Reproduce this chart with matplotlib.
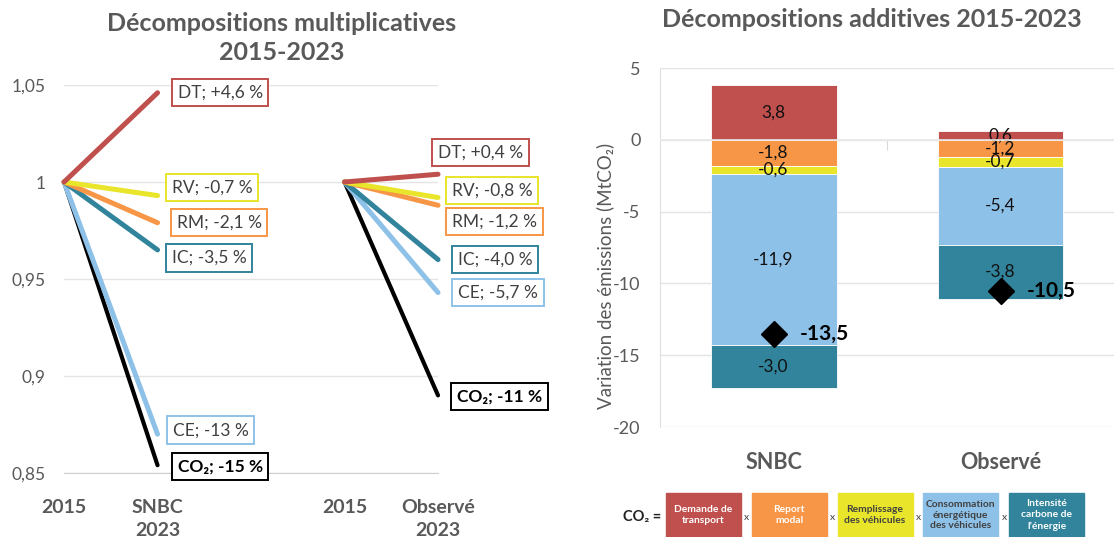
import numpy as np
import matplotlib
matplotlib.use('Agg')
import matplotlib.pyplot as plt
from matplotlib.patches import Rectangle

plt.rcParams['font.family'] = ['Lato', 'DejaVu Sans']
plt.rcParams['axes.unicode_minus'] = False

GREY = '#595959'
GRID = '#E4E4E4'

# ---- data ----------------------------------------------------------
factors = ['DT', 'RV', 'RM', 'IC', 'CE', 'CO₂']
mult_snbc = [1.046, 0.993, 0.979, 0.965, 0.870, 0.854]   # index 2023 (2015 = 1)
mult_obs = [1.004, 0.992, 0.988, 0.960, 0.943, 0.890]
mult_colors = ['#C0504D', '#E8E52A', '#F79646', '#31849B', '#8EC1E8', '#000000']
x_cats = ['2015', 'SNBC\n2023', '2015', 'Observé\n2023']

add_cats = ['SNBC', 'Observé']
add_factors = ['DT', 'RM', 'RV', 'CE', 'IC']
add_snbc = [3.8, -1.8, -0.6, -11.9, -3.0]
add_obs = [0.6, -1.2, -0.7, -5.4, -3.8]
add_colors = ['#C0504D', '#F79646', '#E8E52A', '#8EC1E8', '#31849B']

legend_names = ['Demande de\ntransport', 'Report\nmodal', 'Remplissage\ndes véhicules',
                'Consommation\nénergétique\ndes véhicules', 'Intensité\ncarbone de\nl’énergie']
legend_txt = ['white', 'white', '#404040', '#404040', 'white']

# label offsets (pixels) from line ends, to avoid overlaps
off_snbc = [(20, 0), (14, 8), (19, 0), (14, -8), (15, 4), (20, -1)]
off_obs = [(0, 22), (14, 7), (14, -16), (20, 0), (20, 0), (19, -1)]


def pct_label(name, v):
    p = (v - 1) * 100
    s = f'{p:+.0f}' if abs(p) >= 10 else f'{p:+.1f}'
    if p < 0:
        s = s.replace('+', '')
    return f'{name}; {s.replace(".", ",")} %'


fig = plt.figure(figsize=(11.14, 5.37), dpi=100)

####################################################
# left: multiplicative decomposition
ax1 = fig.add_axes([0.0575, 0.1192, 0.3357, 0.7225])
xs_snbc = [0, 1]
xs_obs = [3, 4]
order = [5, 4, 3, 2, 1, 0]
for i in order:
    lw = 3.0 if factors[i] == 'CO₂' else 3.6
    ax1.plot(xs_snbc, [1, mult_snbc[i]], color=mult_colors[i], lw=lw,
             solid_capstyle='round', clip_on=False, zorder=3)
    ax1.plot(xs_obs, [1, mult_obs[i]], color=mult_colors[i], lw=lw,
             solid_capstyle='round', clip_on=False, zorder=3)

for i, name in enumerate(factors):
    bold = name == 'CO₂'
    ec = '#000000' if bold else mult_colors[i]
    for xe, vals, offs in ((1, mult_snbc, off_snbc), (4, mult_obs, off_obs)):
        ax1.annotate(pct_label(name, vals[i]), xy=(xe, vals[i]), xytext=offs[i],
                     textcoords='offset pixels', ha='left', va='center',
                     fontsize=12.5, color='#000000' if bold else '#404040',
                     fontweight='bold' if bold else 'normal',
                     bbox=dict(boxstyle='square,pad=0.33', fc='white', ec=ec, lw=1.4),
                     annotation_clip=False, zorder=5)

ax1.set_xlim(0, 4)
ax1.set_ylim(0.85, 1.05)
ax1.set_yticks([0.85, 0.9, 0.95, 1.0, 1.05])
ax1.set_yticklabels(['0,85', '0,9', '0,95', '1', '1,05'])
ax1.set_xticks([0, 1, 3, 4])
ax1.set_xticklabels(x_cats, fontweight='bold', linespacing=1.4)
ax1.tick_params(axis='y', length=0, pad=13, labelsize=12.5, labelcolor=GREY)
ax1.tick_params(axis='x', length=0, pad=19, labelsize=14, labelcolor=GREY)
ax1.grid(axis='y', color=GRID, lw=1)
ax1.set_axisbelow(True)
for s in ['left', 'right', 'top']:
    ax1.spines[s].set_visible(False)
ax1.spines['bottom'].set_color('#D0D0D0')
fig.text(0.253, 0.978, 'Décompositions multiplicatives\n2015-2023', ha='center', va='top',
         fontsize=18, fontweight='bold', color=GREY, linespacing=1.35)

####################################################
# right: additive decomposition
ax2 = fig.add_axes([0.5925, 0.2048, 0.4075, 0.6685])
xb = np.arange(len(add_cats))
series = np.array([add_snbc, add_obs]).T
pos_base = np.zeros(len(add_cats))
neg_base = np.zeros(len(add_cats))
for k, vals in enumerate(series):
    bottoms = np.where(vals >= 0, pos_base, neg_base)
    bars = ax2.bar(xb, vals, bottom=bottoms, width=0.555, color=add_colors[k],
                   edgecolor='white', lw=0.6, zorder=2)
    ax2.bar_label(bars, labels=[f'{v:.1f}'.replace('.', ',') for v in vals],
                  label_type='center', fontsize=12.5, color='#111111')
    pos_base = pos_base + np.where(vals >= 0, vals, 0)
    neg_base = neg_base + np.where(vals < 0, vals, 0)

totals = series.sum(axis=0)
ax2.plot(xb, totals, 'D', color='black', ms=13, zorder=4)
for x, t in zip(xb, totals):
    ax2.annotate(f'{t:.1f}'.replace('.', ','), xy=(x, t), xytext=(26, 0),
                 textcoords='offset pixels', ha='left', va='center',
                 fontsize=15, fontweight='bold', color='black')

ax2.set_xlim(-0.5, 1.5)
ax2.set_ylim(-20, 5)
ax2.set_yticks([5, 0, -5, -10, -15, -20])
ax2.set_xticks(xb)
ax2.set_xticklabels(add_cats, fontweight='bold')
ax2.tick_params(axis='y', length=0, pad=14, labelsize=13, labelcolor=GREY)
ax2.tick_params(axis='x', length=0, pad=18, labelsize=15.5, labelcolor=GREY)
ax2.grid(axis='y', color=GRID, lw=1)
ax2.set_axisbelow(True)
for s in ['right', 'top', 'bottom']:
    ax2.spines[s].set_visible(False)
ax2.spines['left'].set_color('#E0E0E0')
ax2.set_ylabel('Variation des émissions (MtCO₂)', fontsize=13.5, color=GREY)
ax2.yaxis.set_label_coords(-0.10, 0.42)

# horizontal category axis at zero
zero_ax = ax2.secondary_xaxis(20 / 25)
zero_ax.set_xticks([0.5])
zero_ax.set_xticklabels([])
zero_ax.tick_params(axis='x', direction='in', length=7, color='#D9D9D9')
zero_ax.spines['bottom'].set_visible(False)
zero_ax.spines['top'].set_visible(False)
ax2.axhline(0, color='#E8E8E8', lw=1.2, zorder=3)

fig.text(0.783, 0.985, 'Décompositions additives 2015-2023', ha='center', va='top',
         fontsize=18, fontweight='bold', color=GREY)

####################################################
# factor legend row
axl = fig.add_axes([620 / 1114, 0, 494 / 1114, 47 / 537])
axl.set_xlim(620, 1114)
axl.set_ylim(537, 490)
axl.axis('off')
axl.text(661, 517, 'CO₂ =', ha='right', va='center', fontsize=10.5,
         fontweight='bold', color='#222222')
for k, name in enumerate(legend_names):
    x0 = 666 + k * 85.75
    axl.add_patch(Rectangle((x0, 493), 75, 44, color=add_colors[k], clip_on=False))
    axl.text(x0 + 37.5, 515, name, ha='center', va='center', fontsize=7.4,
             fontweight='bold', color=legend_txt[k], linespacing=1.25)
    if k < len(legend_names) - 1:
        axl.text(x0 + 80.8, 517, 'x', ha='center', va='center', fontsize=7.5,
                 color='#404040')

fig.savefig('out.png', dpi=100)
